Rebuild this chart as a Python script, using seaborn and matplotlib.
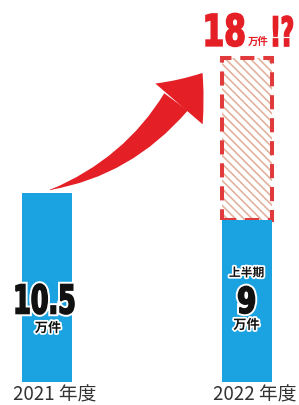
"""Bar chart: yearly count 2021 vs 2022 (first half + projected full year)."""

import matplotlib

matplotlib.use("Agg")
import matplotlib.pyplot as plt
import seaborn as sns
from matplotlib import patheffects, transforms
from matplotlib.font_manager import FontProperties
from matplotlib.patches import ArrowStyle, FancyArrowPatch, PathPatch
from matplotlib.textpath import TextPath

YEARS = ["2021 年度", "2022 年度"]
ACTUAL = [10.5, 9]
FORECAST = 18
VALUE_LABELS = ["10.5", "9"]
FORECAST_LABEL = "18"
UNIT = "万件"
HALF_NOTE = "上半期"

BLUE = "#1ba3e1"
RED = "#e41f26"
DASH_RED = "#e03a3c"
HATCH = "#e2b29c"

BLOCK_FONT = FontProperties(family="Liberation Sans Narrow", weight="bold")


def block_text(ax, s, x, y, w_px, h_px, color, halo=0.0, bold=1.2):
    """Condensed heavy numerals, sized in pixels, centred on a data point."""
    path = TextPath((0, 0), s, size=100, prop=BLOCK_FONT)
    ext = path.get_extents()
    tr = (
        transforms.Affine2D()
        .translate(-(ext.x0 + ext.x1) / 2, -(ext.y0 + ext.y1) / 2)
        .scale(w_px / ext.width, h_px / ext.height)
        + transforms.ScaledTranslation(x, y, ax.transData)
    )
    effects = []
    if halo:
        effects.append(patheffects.Stroke(linewidth=halo, foreground="white"))
    effects += [patheffects.Stroke(linewidth=bold, foreground=color), patheffects.Normal()]
    ax.add_patch(
        PathPatch(path, transform=tr, facecolor=color, edgecolor="none",
                  path_effects=effects, zorder=6, clip_on=False)
    )


sns.set_theme(style="white")
plt.rcParams["font.family"] = ["Noto Sans CJK JP", "DejaVu Sans"]
plt.rcParams["hatch.linewidth"] = 1.2

fig = plt.figure(figsize=(2.99, 4.05), dpi=100)
ax = fig.add_axes([0, 23 / 405, 1, 382 / 405])

# projected bar: hatched fill + dashed outline, sitting on top of the half-year bar
sns.barplot(x=[YEARS[1]], y=[FORECAST], order=YEARS, width=0.25, color="white", saturation=1, ax=ax)
sns.barplot(x=[YEARS[1]], y=[FORECAST], order=YEARS, width=0.25, color="white", saturation=1, ax=ax)
hatch_bar, outline_bar = ax.patches[0], ax.patches[1]
for p in (hatch_bar, outline_bar):
    p.set_y(ACTUAL[1])
    p.set_height(FORECAST - ACTUAL[1])
hatch_bar.set(facecolor="white", edgecolor=HATCH, hatch="\\\\\\\\", linewidth=0, zorder=1)
outline_bar.set(facecolor="none", edgecolor=DASH_RED, linewidth=2.9,
                linestyle=(0, (3.5, 2.2)), zorder=2)

sns.barplot(x=YEARS, y=ACTUAL, order=YEARS, width=0.25, color=BLUE, saturation=1, ax=ax)
for p in ax.patches[2:]:
    p.set(linewidth=0, zorder=3)

ax.set_xlim(-0.2325, 1.2625)
ax.set_ylim(0, 382 / 18)

halo_fx = [patheffects.withStroke(linewidth=2.5, foreground="white")]

# value labels inside the bars
block_text(ax, VALUE_LABELS[0], -0.0075, 4.61, 58, 30, "#111111", halo=4)
ax.text(0.0075, 3.0, UNIT, ha="center", va="center", fontsize=9.5, fontweight="bold",
        color="#111111", zorder=6, path_effects=halo_fx)

ax.text(1, 6.06, HALF_NOTE, ha="center", va="center", fontsize=8.5, fontweight="bold",
        color="#111111", zorder=6, path_effects=halo_fx)
block_text(ax, VALUE_LABELS[1], 1, 4.56, 16, 27, "#111111", halo=4)
ax.text(1, 3.17, UNIT, ha="center", va="center", fontsize=9.5, fontweight="bold",
        color="#111111", zorder=6, path_effects=halo_fx)

# projected value above the dashed bar
block_text(ax, FORECAST_LABEL, 0.8925, 19.56, 38, 33, RED)
ax.text(1.0575, 18.9, UNIT, ha="center", va="center", fontsize=7.5, fontweight="bold",
        color=RED, zorder=6)
block_text(ax, "!?", 1.1825, 19.5, 19, 30, RED)

# growth arrow: tapered shaft (wedge, wide end at the head) + arrow head
tail = (0.0175, 10.67)
tip = (0.78, 17.17)
head_base = (0.6475, 15.56)
shaft = FancyArrowPatch(
    posA=head_base, posB=tail,
    arrowstyle=ArrowStyle.Wedge(tail_width=2.1, shrink_factor=0.55),
    connectionstyle="arc3,rad=-0.17",
    mutation_scale=10, shrinkA=0, shrinkB=0,
    color=RED, linewidth=0, zorder=4,
)
head = FancyArrowPatch(
    posA=tail, posB=tip,
    arrowstyle=ArrowStyle.Simple(head_length=2.8, head_width=4.5, tail_width=0.05),
    connectionstyle="arc3,rad=0.17",
    mutation_scale=10, shrinkA=0, shrinkB=0,
    color=RED, linewidth=0, zorder=4,
)
ax.add_patch(shaft)
ax.add_patch(head)

ax.set_xlabel("")
ax.set_ylabel("")
ax.set_yticks([])
ax.tick_params(axis="x", length=0, pad=1.5, labelsize=13.5, colors="#333333")
for lbl in ax.get_xticklabels():
    lbl.set_transform(lbl.get_transform() + transforms.ScaledTranslation(0.08, 0, fig.dpi_scale_trans))
sns.despine(ax=ax, left=True, bottom=True)

fig.savefig("out.png", dpi=100)
plt.close(fig)
